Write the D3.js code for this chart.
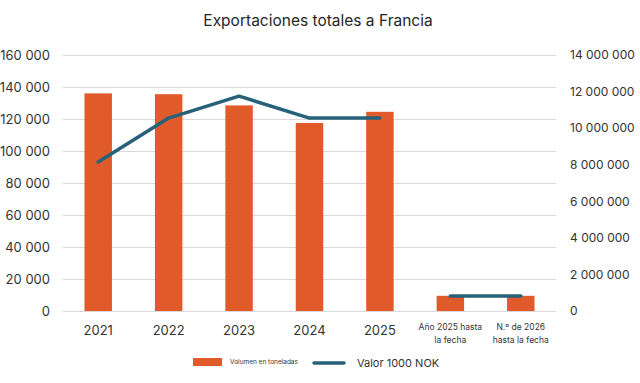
<!DOCTYPE html>
<html><head><meta charset="utf-8">
<script src="https://cdn.jsdelivr.net/npm/d3@7"></script>
<style>
html,body{margin:0;padding:0;background:#fff;}
svg{display:block;font-family:Inter,"Liberation Sans",Arial,sans-serif;}
</style></head>
<body>
<script>
const categories = ["2021","2022","2023","2024","2025","Año 2025 hasta|la fecha","N.º de 2026|hasta la fecha"];
const volume = [136000, 135500, 128500, 117500, 124500, 9500, 9500];
const value1000NOK = [8150000, 10550000, 11750000, 10550000, 10550000, 820000, 820000];
const lineSegments = [[0,1,2,3,4],[5,6]];
const leftTicks = [0,20000,40000,60000,80000,100000,120000,140000,160000];
const rightTicks = [0,2000000,4000000,6000000,8000000,10000000,12000000,14000000];
const title = "Exportaciones totales a Francia";
const legendLabels = ["Volumen en toneladas","Valor 1000 NOK"];

const W=640,H=383;
const m={l:63,r:84,t:55,b:72};
const svg=d3.select("body").append("svg").attr("width",W).attr("height",H);
const x=d3.scaleBand().domain(categories).range([m.l,W-m.r]).paddingInner(0.61).paddingOuter(0.305);
const yL=d3.scaleLinear().domain([0,160000]).range([H-m.b,m.t]);
const yR=d3.scaleLinear().domain([0,14000000]).range([H-m.b,m.t]);
const fmtS=v=>d3.format(",")(v).replace(/,/g," ");

svg.append("text").attr("x",318).attr("y",26).attr("text-anchor","middle")
  .attr("font-size",15.5).attr("fill","#262626").text(title);

// gridlines
svg.append("g").selectAll("line").data(leftTicks).join("line")
  .attr("x1",m.l).attr("x2",W-m.r).attr("y1",d=>yL(d)+0.5).attr("y2",d=>yL(d)+0.5)
  .attr("stroke","#d9d9d9").attr("stroke-width",1);

// left axis
const gl=svg.append("g").attr("transform",`translate(${m.l},0)`)
  .call(d3.axisLeft(yL).tickValues(leftTicks).tickFormat(fmtS).tickSize(0).tickPadding(13));
gl.select(".domain").remove();
gl.selectAll("text").attr("font-size",13).attr("fill","#333").attr("font-family","Inter,'Liberation Sans',sans-serif");

// right axis
const gr=svg.append("g").attr("transform",`translate(${W-m.r},0)`)
  .call(d3.axisRight(yR).tickValues(rightTicks).tickFormat(fmtS).tickSize(0).tickPadding(14));
gr.select(".domain").remove();
gr.selectAll("text").attr("font-size",12).attr("fill","#333").attr("font-family","Inter,'Liberation Sans',sans-serif");

// bars
svg.append("g").selectAll("rect").data(categories).join("rect")
  .attr("x",d=>x(d)).attr("width",x.bandwidth())
  .attr("y",(d,i)=>yL(volume[i])).attr("height",(d,i)=>yL(0)-yL(volume[i]))
  .attr("fill","#E15A2A");

// line
const line=d3.line().x(i=>x(categories[i])+x.bandwidth()/2).y(i=>yR(value1000NOK[i]));
svg.append("g").selectAll("path").data(lineSegments).join("path")
  .attr("d",line).attr("fill","none").attr("stroke","#27617A").attr("stroke-width",3.5)
  .attr("stroke-linejoin","round").attr("stroke-linecap","round");

// x labels
const xl=svg.append("g");
categories.forEach(c=>{
  const parts=c.split("|");
  const cx=x(c)+x.bandwidth()/2;
  if(parts.length===1){
    xl.append("text").attr("x",cx).attr("y",335).attr("text-anchor","middle")
      .attr("font-size",13).attr("fill","#333").text(parts[0]);
  } else {
    parts.forEach((p,j)=>xl.append("text").attr("x",cx).attr("y",330+j*13).attr("text-anchor","middle")
      .attr("font-size",8.5).attr("fill","#333").text(p));
  }
});

// legend
const lg=svg.append("g");
lg.append("rect").attr("x",193).attr("y",358).attr("width",29).attr("height",8).attr("fill","#E15A2A");
lg.append("text").attr("x",230).attr("y",364).attr("font-size",6.5).attr("fill","#333").text(legendLabels[0]);
lg.append("line").attr("x1",314).attr("x2",344).attr("y1",363).attr("y2",363)
  .attr("stroke","#27617A").attr("stroke-width",3.5).attr("stroke-linecap","round");
lg.append("text").attr("x",357).attr("y",367).attr("font-size",11).attr("fill","#333").text(legendLabels[1]);
</script>
</body></html>
